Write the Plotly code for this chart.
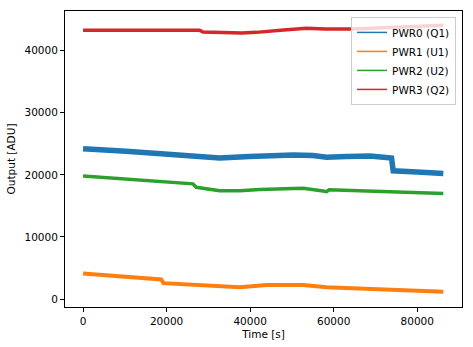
import plotly.graph_objects as go

# Data
t_pwr0 = [0, 5000, 10300, 18700, 26300, 32700, 39900, 45000, 50300, 55000, 58300, 63000, 68700, 73850, 74250, 80000, 86250]
v_pwr0 = [24200, 24050, 23800, 23400, 23050, 22700, 22950, 23150, 23200, 23100, 22850, 22950, 23050, 22700, 20650, 20450, 20200]

t_pwr1 = [0, 5000, 10300, 18700, 19260, 25000, 30300, 37500, 43900, 52700, 58300, 63000, 67900, 71850, 78000, 86250]
v_pwr1 = [4100, 3850, 3600, 3150, 2550, 2300, 2100, 1900, 2250, 2250, 1900, 1800, 1720, 1550, 1400, 1180]

t_pwr2 = [0, 10300, 18700, 26300, 27100, 32700, 37500, 42300, 50300, 52700, 57500, 58300, 58900, 64000, 70300, 78000, 86250]
v_pwr2 = [19800, 19300, 18900, 18550, 18000, 17450, 17450, 17650, 17800, 17850, 17400, 17300, 17600, 17500, 17450, 17250, 17000]

t_pwr3 = [0, 10000, 20000, 27900, 28700, 35100, 38000, 41500, 43900, 48000, 53500, 58000, 64700, 72000, 80000, 86250]
v_pwr3 = [43300, 43350, 43300, 43300, 43000, 42800, 42850, 42950, 43150, 43350, 43600, 43500, 43500, 43700, 43900, 44100]

names = ["PWR0 (Q1)", "PWR1 (U1)", "PWR2 (U2)", "PWR3 (Q2)"]
colors = ["#1f77b4", "#ff7f0e", "#2ca02c", "#d62728"]
widths = [5.5, 4, 3.5, 3.5]

x_ticks = [0, 20000, 40000, 60000, 80000]
y_ticks = [0, 10000, 20000, 30000, 40000]

series = [(t_pwr0, v_pwr0), (t_pwr1, v_pwr1), (t_pwr2, v_pwr2), (t_pwr3, v_pwr3)]

fig = go.Figure()
for (tx, vy), name, c, w in zip(series, names, colors, widths):
    fig.add_trace(go.Scatter(x=tx, y=vy, mode="lines", name=name, showlegend=False,
                             line=dict(color=c, width=w)))
# legend entries with thin lines, as in the reference
for name, c in zip(names, colors):
    fig.add_trace(go.Scatter(x=[None], y=[None], mode="lines", name=name,
                             line=dict(color=c, width=1.5)))

font = "DejaVu Sans, Arial, sans-serif"
axis_common = dict(showgrid=False, zeroline=False, showline=True, linecolor="black",
                   linewidth=1, mirror=True, ticks="outside", ticklen=4, tickcolor="black",
                   automargin=False,
                   tickfont=dict(family=font, size=10.5, color="black"))

fig.update_layout(
    width=473, height=347,
    margin=dict(l=65, r=11, t=11, b=40, autoexpand=False),
    paper_bgcolor="white", plot_bgcolor="white",
    font=dict(family=font, size=10.5, color="black"),
    xaxis=dict(range=[-4320, 90720], tickvals=x_ticks, ticktext=[str(v) for v in x_ticks],
               title=dict(text="Time [s]", font=dict(family=font, size=10.5), standoff=5),
               **axis_common),
    yaxis=dict(range=[-1289, 46393], tickvals=y_ticks, ticktext=[str(v) for v in y_ticks],
               title=dict(text="Output [ADU]", font=dict(family=font, size=10.5), standoff=6),
               **axis_common),
    legend=dict(x=0.985, y=0.98, xanchor="right", yanchor="top",
                bgcolor="rgba(255,255,255,0.8)", bordercolor="#cccccc", borderwidth=1,
                font=dict(family=font, size=10.5), itemwidth=30, tracegroupgap=0),
)

fig.write_html("out.html")
